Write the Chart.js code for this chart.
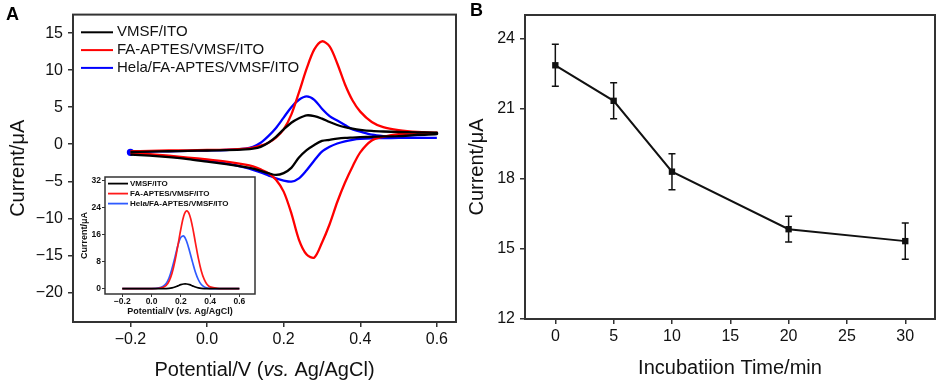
<!DOCTYPE html>
<html><head><meta charset="utf-8">
<script src="https://cdn.jsdelivr.net/npm/chart.js@4"></script>
<style>
html,body{margin:0;padding:0;background:#fff;}
#wrap{position:relative;width:941px;height:384px;overflow:hidden;font-family:'Liberation Sans',Arial,sans-serif;background:#fff;}
canvas{position:absolute;}
.lbl{position:absolute;font-weight:bold;font-size:18px;line-height:18px;color:#000;}
</style></head>
<body><div id="wrap">
<canvas id="cA" width="470" height="384" style="left:0;top:0;width:470px;height:384px"></canvas>
<canvas id="cB" width="479" height="384" style="left:462px;top:0;width:479px;height:384px"></canvas>
<canvas id="cI" width="205" height="160" style="left:60px;top:165px;width:205px;height:160px"></canvas>
<div class="lbl" style="left:6px;top:5px">A</div>
<div class="lbl" style="left:470px;top:1px">B</div>
</div>
<script>
// ---------- Panel A: cyclic voltammograms ----------
const cvLabels = ['VMSF/ITO', 'FA-APTES/VMSF/ITO', 'Hela/FA-APTES/VMSF/ITO'];
// forward (anodic) scan potentials, V
const cvFwdV = [-0.2,-0.15,-0.1,-0.05,0,0.05,0.1,0.12,0.14,0.16,0.18,0.2,0.22,0.24,0.26,0.28,0.3,0.32,0.34,0.36,0.38,0.4,0.43,0.46,0.5,0.55,0.6];
// reverse (cathodic) scan potentials, V
const cvRevV = [0.6,0.55,0.5,0.46,0.43,0.4,0.38,0.36,0.34,0.32,0.3,0.28,0.26,0.24,0.22,0.2,0.18,0.16,0.14,0.12,0.1,0.05,0,-0.05,-0.1,-0.15,-0.2];
const vmsfFwd  = [-1.05,-1.0,-0.95,-0.9,-0.85,-0.8,-0.7,-0.6,-0.35,0.2,1.0,2.0,2.9,3.5,3.9,3.8,3.45,3.0,2.6,2.3,2.1,1.95,1.8,1.72,1.65,1.6,1.55];
const vmsfRev  = [1.35,1.25,1.1,1.05,1.0,0.95,0.9,0.85,0.75,0.6,0.45,-0.1,-0.8,-1.8,-3.2,-3.9,-4.15,-3.9,-3.6,-3.3,-3.1,-2.7,-2.35,-2.0,-1.75,-1.55,-1.4];
const faFwd    = [-0.95,-0.9,-0.85,-0.82,-0.78,-0.72,-0.6,-0.45,-0.2,0.2,0.9,2.0,4.0,7.0,10.2,12.8,13.9,13.2,10.9,8.1,5.9,4.4,3.0,2.3,1.9,1.65,1.55];
const faRev    = [1.5,1.45,1.35,1.0,0.5,-1.1,-3.0,-5.2,-7.8,-10.8,-13.3,-15.3,-14.9,-12.9,-9.3,-6.4,-4.8,-3.9,-3.4,-3.0,-2.75,-2.35,-2.05,-1.8,-1.55,-1.35,-1.2];
const helaFwd  = [-1.1,-1.0,-0.95,-0.9,-0.85,-0.78,-0.6,-0.35,0.2,1.1,2.2,3.6,5.0,6.0,6.45,6.0,4.8,3.8,3.2,2.6,2.0,1.7,1.3,1.1,0.95,0.88,0.85];
const helaRev  = [0.85,0.85,0.85,0.82,0.8,0.72,0.6,0.4,0.1,-0.35,-1.0,-2.2,-3.5,-4.6,-5.05,-4.9,-4.6,-4.2,-3.8,-3.45,-3.15,-2.6,-2.2,-1.9,-1.65,-1.45,-1.25];
const cvXTicks = [-0.2, 0.0, 0.2, 0.4, 0.6];
const cvYTicks = [15, 10, 5, 0, -5, -10, -15, -20];
const cvXTitle = ['Potential/V (', 'vs.', ' Ag/AgCl)'];
const cvYTitle = 'Current/\u03bcA';

// ---------- Inset: DPV ----------
const dpvV    = [-0.2,-0.1,0,0.05,0.08,0.1,0.12,0.14,0.16,0.18,0.2,0.22,0.24,0.26,0.28,0.3,0.32,0.34,0.36,0.38,0.4,0.45,0.5,0.6];
const dpvVmsf = [0.1,0.1,0.1,0.1,0.1,0.1,0.15,0.3,0.55,0.9,1.25,1.45,1.45,1.25,0.9,0.55,0.3,0.15,0.1,0.1,0.1,0.1,0.1,0.1];
const dpvFa   = [0.1,0.1,0.1,0.2,0.5,1.0,2.3,4.6,8.2,12.8,17.6,21.5,23.0,21.8,18.3,13.6,9.0,5.3,2.8,1.3,0.6,0.15,0.1,0.1];
const dpvHela = [0.1,0.1,0.1,0.3,0.8,1.6,3.3,6.0,9.3,12.8,15.2,15.6,14.0,11.1,7.9,4.9,2.7,1.3,0.6,0.25,0.1,0.1,0.1,0.1];
const dpvXTicks = [-0.2, 0.0, 0.2, 0.4, 0.6];
const dpvYTicks = [0, 8, 16, 24, 32];

// ---------- Panel B ----------
const incTime = [0, 5, 10, 20, 30];
const incCurrent = [22.85, 21.33, 18.3, 15.84, 15.33];
const incError = [0.9, 0.77, 0.77, 0.55, 0.78];
const incXTicks = [0, 5, 10, 15, 20, 25, 30];
const incYTicks = [12, 15, 18, 21, 24];
const incXTitle = 'Incubatiion Time/min';
const incYTitle = 'Current/\u03bcA';

// ---------- helpers ----------
const FONT = "'Liberation Sans', Arial, sans-serif";
const AX = '#333';
const TXT = '#111';
const fixedTicks = vals => s => { s.ticks = vals.map(v => ({value: v})); };
const fmt1 = v => (v < 0 ? '\u2212' : '') + Math.abs(v).toFixed(1);
const fmt0 = v => (v < 0 ? '\u2212' : '') + Math.abs(v);
const pts = (xs, ys) => xs.map((x, i) => ({x: x, y: ys[i]}));

function framePlugin(lw, fillWhite) {
  return {
    id: 'frame',
    beforeDraw(chart) {
      if (!fillWhite) return;
      const a = chart.chartArea, c = chart.ctx;
      c.save(); c.fillStyle = '#fff';
      c.fillRect(a.left, a.top, a.right - a.left, a.bottom - a.top);
      c.restore();
    },
    afterDraw(chart) {
      const a = chart.chartArea, c = chart.ctx;
      c.save(); c.strokeStyle = AX; c.lineWidth = lw;
      c.strokeRect(a.left, a.top, a.right - a.left, a.bottom - a.top);
      c.restore();
    }
  };
}
function legendPlugin(o) {
  return {
    id: 'boxLegend',
    afterDatasetsDraw(chart) {
      const a = chart.chartArea, c = chart.ctx;
      c.save();
      c.font = o.font; c.textBaseline = 'middle'; c.textAlign = 'left';
      chart.data.datasets.forEach((ds, i) => {
        const y = a.top + o.y0 + i * o.dy;
        c.strokeStyle = ds.borderColor; c.lineWidth = o.lw;
        c.beginPath(); c.moveTo(a.left + o.x0, y); c.lineTo(a.left + o.x1, y); c.stroke();
        c.fillStyle = TXT;
        c.fillText(ds.label, a.left + o.tx, y);
      });
      c.restore();
    }
  };
}
function richTitlePlugin(parts, size, weight, y) {
  return {
    id: 'richTitle',
    afterDraw(chart) {
      const a = chart.chartArea, c = chart.ctx;
      c.save(); c.fillStyle = TXT; c.textBaseline = 'middle'; c.textAlign = 'left';
      const fonts = parts.map((p, i) => (i === 1 ? 'italic ' : '') + weight + ' ' + size + 'px ' + FONT);
      const widths = parts.map((p, i) => { c.font = fonts[i]; return c.measureText(p).width; });
      let x = (a.left + a.right) / 2 - widths.reduce((s, w) => s + w, 0) / 2;
      parts.forEach((p, i) => { c.font = fonts[i]; c.fillText(p, x, y); x += widths[i]; });
      c.restore();
    }
  };
}

const commonOpts = {
  responsive: false, animation: false, devicePixelRatio: 1, events: [],
  plugins: {legend: {display: false}, tooltip: {enabled: false}, title: {display: false}}
};

// ---------- Chart A ----------
const cvColors = ['#000000', '#ff0000', '#0000ff'];
const cvSets = [[vmsfFwd, vmsfRev], [faFwd, faRev], [helaFwd, helaRev]];
new Chart(document.getElementById('cA'), {
  type: 'line',
  data: {
    datasets: cvSets.map((s, i) => ({
      label: cvLabels[i],
      data: pts(cvFwdV, s[0]).concat(pts(cvRevV, s[1])),
      borderColor: cvColors[i], backgroundColor: cvColors[i],
      borderWidth: 2.3, tension: 0.3, fill: false,
      pointRadius: i === 2 ? (ctx => ctx.dataIndex === 0 ? 2.5 : 0) : 0
    }))
  },
  options: Object.assign({}, commonOpts, {
    layout: {padding: {left: 0, top: 14, right: 14, bottom: 0}},
    scales: {
      x: {
        type: 'linear', min: -0.35, max: 0.65,
        afterBuildTicks: fixedTicks(cvXTicks),
        afterFit: s => { s.height = 62; },
        border: {display: false},
        grid: {drawOnChartArea: false, drawTicks: true, tickLength: 5, color: AX, lineWidth: 1.5},
        ticks: {autoSkip: false, maxRotation: 0, padding: 3, color: TXT, font: {family: FONT, size: 16}, callback: v => fmt1(v)},
        title: {display: false}
      },
      y: {
        type: 'linear', min: -24, max: 17.5,
        afterBuildTicks: fixedTicks(cvYTicks),
        afterFit: s => { s.width = 73; },
        border: {display: false},
        grid: {drawOnChartArea: false, drawTicks: true, tickLength: 5, color: AX, lineWidth: 1.5},
        ticks: {autoSkip: false, padding: 5, color: TXT, font: {family: FONT, size: 16}, callback: v => fmt0(v)},
        title: {display: true, text: cvYTitle, color: TXT, font: {family: FONT, size: 20, lineHeight: 1.2}, padding: {top: 6, bottom: 0}}
      }
    }
  }),
  plugins: [framePlugin(2, false),
    legendPlugin({font: '15px ' + FONT, x0: 8, x1: 40, tx: 44, y0: 17.7, dy: 17.8, lw: 2}),
    richTitlePlugin(cvXTitle, 20, 'normal', 370)]
});

// ---------- Inset ----------
const dpvColors = ['#000000', '#ff1a1a', '#2f5bff'];
const dpvSets = [dpvVmsf, dpvFa, dpvHela];
new Chart(document.getElementById('cI'), {
  type: 'line',
  data: {
    datasets: dpvSets.map((s, i) => ({
      label: cvLabels[i], data: pts(dpvV, s),
      borderColor: dpvColors[i], backgroundColor: dpvColors[i],
      borderWidth: 1.7, tension: 0.35, pointRadius: 0, fill: false
    }))
  },
  options: Object.assign({}, commonOpts, {
    layout: {padding: {left: 0, top: 12, right: 10, bottom: 0}},
    scales: {
      x: {
        type: 'linear', min: -0.318, max: 0.707,
        afterBuildTicks: fixedTicks(dpvXTicks),
        afterFit: s => { s.height = 31; },
        border: {display: false},
        grid: {drawOnChartArea: false, drawTicks: true, tickLength: 3, color: AX, lineWidth: 1},
        ticks: {autoSkip: false, maxRotation: 0, padding: 0, color: TXT, font: {family: FONT, size: 8.5, weight: 'bold'}, callback: v => fmt1(v)},
        title: {display: false}
      },
      y: {
        type: 'linear', min: -1.5, max: 33,
        afterBuildTicks: fixedTicks(dpvYTicks),
        afterFit: s => { s.width = 45; },
        border: {display: false},
        grid: {drawOnChartArea: false, drawTicks: true, tickLength: 3, color: AX, lineWidth: 1},
        ticks: {autoSkip: false, padding: 1, color: TXT, font: {family: FONT, size: 8.5, weight: 'bold'}, callback: v => fmt0(v)},
        title: {display: true, text: cvYTitle, color: TXT, font: {family: FONT, size: 9, weight: 'bold', lineHeight: 1.2}, padding: {top: 19.5, bottom: 0}}
      }
    }
  }),
  plugins: [framePlugin(1.5, true),
    legendPlugin({font: 'bold 8px ' + FONT, x0: 3, x1: 23, tx: 25, y0: 6.6, dy: 10, lw: 1.8}),
    richTitlePlugin(cvXTitle, 9, 'bold', 146.7)]
});

// ---------- Chart B ----------
const errorBarPlugin = {
  id: 'errBars',
  beforeDatasetsDraw(chart) {
    const xs = chart.scales.x, ys = chart.scales.y, c = chart.ctx;
    c.save(); c.strokeStyle = '#111'; c.lineWidth = 1.5;
    incTime.forEach((t, i) => {
      const x = xs.getPixelForValue(t);
      const yt = ys.getPixelForValue(incCurrent[i] + incError[i]);
      const yb = ys.getPixelForValue(incCurrent[i] - incError[i]);
      c.beginPath();
      c.moveTo(x, yt); c.lineTo(x, yb);
      c.moveTo(x - 3.5, yt); c.lineTo(x + 3.5, yt);
      c.moveTo(x - 3.5, yb); c.lineTo(x + 3.5, yb);
      c.stroke();
    });
    c.restore();
  }
};
new Chart(document.getElementById('cB'), {
  type: 'line',
  data: {
    datasets: [{
      label: 'Current', data: pts(incTime, incCurrent),
      borderColor: '#111', backgroundColor: '#111', borderWidth: 2, tension: 0,
      pointStyle: 'rect', pointRadius: 4.5, pointBorderWidth: 0, fill: false
    }]
  },
  options: Object.assign({}, commonOpts, {
    layout: {padding: {left: 0, top: 15, right: 6, bottom: 0}},
    scales: {
      x: {
        type: 'linear', min: -2.6, max: 32.55,
        afterBuildTicks: fixedTicks(incXTicks),
        afterFit: s => { s.height = 65; },
        border: {display: false},
        grid: {drawOnChartArea: false, drawTicks: true, tickLength: 5, color: AX, lineWidth: 1.5},
        ticks: {autoSkip: false, maxRotation: 0, padding: 3, color: TXT, font: {family: FONT, size: 16}, callback: v => fmt0(v)},
        title: {display: true, text: incXTitle, color: TXT, font: {family: FONT, size: 20, lineHeight: 1.2}, padding: {top: 0, bottom: 4}}
      },
      y: {
        type: 'linear', min: 12, max: 25,
        afterBuildTicks: fixedTicks(incYTicks),
        afterFit: s => { s.width = 63; },
        border: {display: false},
        grid: {drawOnChartArea: false, drawTicks: true, tickLength: 5, color: AX, lineWidth: 1.5},
        ticks: {autoSkip: false, padding: 5, color: TXT, font: {family: FONT, size: 16}, callback: v => fmt0(v)},
        title: {display: true, text: incYTitle, color: TXT, font: {family: FONT, size: 20, lineHeight: 1.2}, padding: {top: 3.5, bottom: 0}}
      }
    }
  }),
  plugins: [framePlugin(2, false), errorBarPlugin]
});
</script>
</body></html>
